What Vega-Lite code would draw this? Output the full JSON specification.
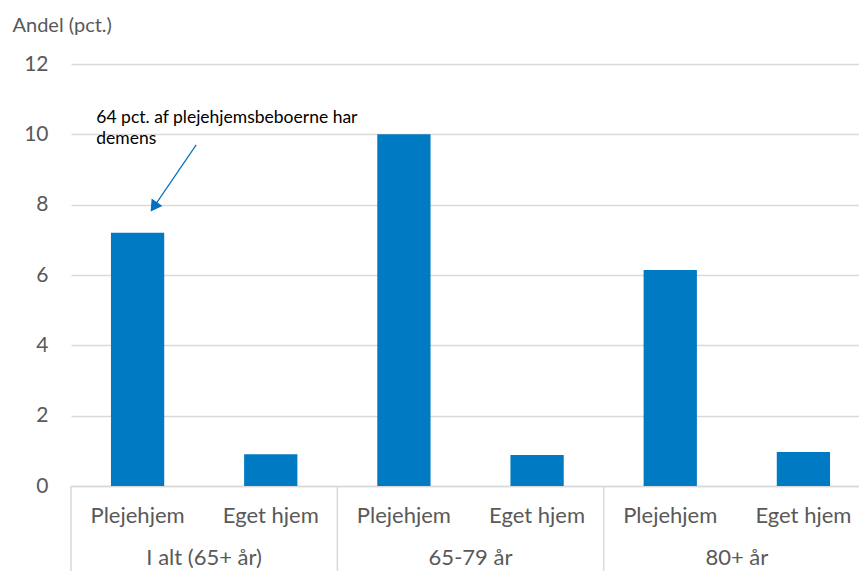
{
  "$schema": "https://vega.github.io/schema/vega-lite/v6.json",
  "width": 788,
  "height": 422,
  "autosize": "none",
  "padding": {"left": 71, "top": 64, "right": 0, "bottom": 85},
  "background": "white",
  "config": {"view": {"stroke": null}, "font": "Lato"},
  "datasets": {
    "bars": [
      {"group": "I alt (65+ år)", "type": "Plejehjem", "key": "I alt (65+ år)|Plejehjem", "value": 7.2},
      {"group": "I alt (65+ år)", "type": "Eget hjem", "key": "I alt (65+ år)|Eget hjem", "value": 0.9},
      {"group": "65-79 år", "type": "Plejehjem", "key": "65-79 år|Plejehjem", "value": 10.0},
      {"group": "65-79 år", "type": "Eget hjem", "key": "65-79 år|Eget hjem", "value": 0.88},
      {"group": "80+ år", "type": "Plejehjem", "key": "80+ år|Plejehjem", "value": 6.14},
      {"group": "80+ år", "type": "Eget hjem", "key": "80+ år|Eget hjem", "value": 0.97}
    ],
    "groups": [
      {"group": "I alt (65+ år)", "key": "I alt (65+ år)|Plejehjem"},
      {"group": "65-79 år", "key": "65-79 år|Plejehjem"},
      {"group": "80+ år", "key": "80+ år|Plejehjem"}
    ],
    "note": [
      {"label": ["64 pct. af plejehjemsbeboerne har", "demens"], "tx": 0.19, "ty": 10.72, "ax": 0.94, "ay": 9.7, "bx": 0.63, "by": 7.98}
    ]
  },
  "layer": [
    {
      "layer": [
        {
          "data": {"name": "bars"},
          "mark": {"type": "bar", "color": "#007AC2", "width": {"band": 0.4}},
          "encoding": {
            "x": {
              "field": "key", "type": "nominal", "sort": null,
              "scale": {"range": [0, 799], "paddingInner": 0, "paddingOuter": 0},
              "axis": {
                "title": null,
                "labelExpr": "split(datum.label, '|')[1]",
                "labelAngle": 0,
                "labelFontSize": 22,
                "labelColor": "#595959",
                "labelPadding": 19,
                "ticks": false,
                "domainColor": "#D9D9D9",
                "domainWidth": 1.5,
                "labelFont": "Lato"
              }
            },
            "y": {
              "field": "value", "type": "quantitative",
              "scale": {"domain": [0, 12], "nice": false},
              "axis": {
                "values": [0, 2, 4, 6, 8, 10, 12],
                "title": "Andel (pct.)",
                "titleAngle": 0,
                "titleX": -59,
                "titleY": -39,
                "titleAlign": "left",
                "titleBaseline": "middle",
                "titleFontSize": 20,
                "titleFontWeight": "normal",
                "titleColor": "#595959",
                "titleFont": "Lato",
                "labelFontSize": 21,
                "labelColor": "#595959",
                "labelPadding": 23,
                "labelFont": "Lato",
                "ticks": false,
                "domain": false,
                "grid": true,
                "gridColor": "#D9D9D9",
                "gridWidth": 1.5
              }
            }
          }
        },
        {
          "data": {"name": "groups"},
          "mark": {"type": "rule", "color": "#D9D9D9", "strokeWidth": 1.5, "clip": false},
          "encoding": {
            "x": {"field": "key", "type": "nominal", "sort": null, "bandPosition": 0},
            "y": {"datum": 0},
            "y2": {"datum": -2.6}
          }
        },
        {
          "data": {"name": "groups"},
          "mark": {"type": "text", "fontSize": 22, "color": "#595959", "font": "Lato", "baseline": "middle", "align": "center", "clip": false},
          "encoding": {
            "x": {"field": "key", "type": "nominal", "sort": null, "bandPosition": 1},
            "y": {"datum": -2.06},
            "text": {"field": "group"}
          }
        }
      ]
    },
    {
      "data": {"name": "note"},
      "layer": [
        {
          "mark": {"type": "text", "fontSize": 17.5, "color": "#000000", "font": "Lato", "align": "left", "baseline": "top", "lineHeight": 21},
          "encoding": {
            "x": {"field": "tx", "type": "quantitative", "scale": {"domain": [0, 6], "range": [0, 799]}, "axis": null},
            "y": {"field": "ty", "type": "quantitative"},
            "text": {"field": "label"}
          }
        },
        {
          "mark": {"type": "rule", "color": "#0070C0", "strokeWidth": 1.2},
          "encoding": {
            "x": {"field": "ax", "type": "quantitative", "scale": {"domain": [0, 6], "range": [0, 799]}, "axis": null},
            "y": {"field": "ay", "type": "quantitative"},
            "x2": {"field": "bx"},
            "y2": {"field": "by"}
          }
        },
        {
          "mark": {"type": "point", "shape": "triangle", "filled": true, "color": "#0070C0", "size": 170, "angle": 214, "opacity": 1},
          "encoding": {
            "x": {"field": "bx", "type": "quantitative", "scale": {"domain": [0, 6], "range": [0, 799]}, "axis": null},
            "y": {"field": "by", "type": "quantitative"}
          }
        }
      ]
    }
  ],
  "resolve": {"scale": {"x": "independent"}}
}
